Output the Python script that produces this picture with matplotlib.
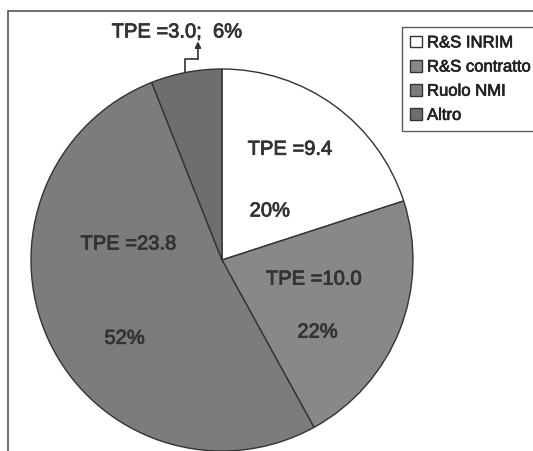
import matplotlib
matplotlib.use("Agg")
import matplotlib.pyplot as plt
import matplotlib.patheffects as pe
from matplotlib.patches import Rectangle

plt.rcParams['font.family'] = ['Liberation Sans', 'DejaVu Sans']

# data
categories = ['R&S INRIM', 'R&S contratto', 'Ruolo NMI', 'Altro']
shares = [20, 22, 52, 6]
tpe = [9.4, 10.0, 23.8, 3.0]
colors = ['#ffffff', '#888888', '#7c7c7c', '#6e6e6e']

fig = plt.figure(figsize=(5.33, 4.52), dpi=100)

# outer frame of the scanned chart
fig.patches.append(Rectangle((8 / 533, -0.05), 1.2, 1 - 12 / 452 + 0.05,
                             transform=fig.transFigure, fill=False,
                             edgecolor='#555555', lw=1.2))

# pie axes: centre (222, 261) px, radius 191 px
ax = fig.add_axes([31 / 533, 0.0, 382 / 533, 382 / 452])
wedges, _ = ax.pie(shares, colors=colors, startangle=90, counterclock=False,
                   wedgeprops=dict(edgecolor='#333333', linewidth=1.0))
ax.set_xlim(-1, 1)
ax.set_ylim(-1, 1)

bold = [pe.withStroke(linewidth=0.6, foreground='#333333')]
txt = dict(fontsize=14.5, color='#333333', ha='center', va='center',
           path_effects=bold)
# label positions inside the wedges
tpe_pos = [(0.356, 0.58), (0.48, -0.10), (-0.49, 0.084)]
pct_pos = [(0.25, 0.257), (0.50, -0.377), (-0.51, -0.41)]
for i in range(3):
    ax.text(*tpe_pos[i], 'TPE =%.1f' % tpe[i], **txt)
    ax.text(*pct_pos[i], '%d%%' % shares[i], **txt)

# small slice label outside, with elbow arrow
ax.text(-0.236, 1.194, 'TPE =%.1f;  %d%%' % (tpe[3], shares[3]),
        clip_on=False, **txt)
ax.plot([-0.194, -0.194, -0.126], [0.984, 1.052, 1.052], color='#333333',
        lw=1.2, clip_on=False)
ax.annotate('', xy=(-0.126, 1.145), xytext=(-0.126, 1.052),
            arrowprops=dict(arrowstyle='-|>', color='#333333', lw=1.2,
                            mutation_scale=9, shrinkA=0, shrinkB=0),
            annotation_clip=False)

leg = fig.legend(wedges, categories, loc='upper left',
                 bbox_to_anchor=(402 / 533, 1 - 28 / 452), fontsize=12,
                 frameon=True, fancybox=False, edgecolor='#333333',
                 handlelength=0.7, handleheight=0.7, handletextpad=0.3,
                 labelspacing=0.55, borderpad=0.5, borderaxespad=0)
leg.get_frame().set_linewidth(1.0)
for t in leg.get_texts():
    t.set_color('#222222')
    t.set_path_effects([pe.withStroke(linewidth=0.5, foreground='#222222')])

fig.savefig('out.png', dpi=100)
